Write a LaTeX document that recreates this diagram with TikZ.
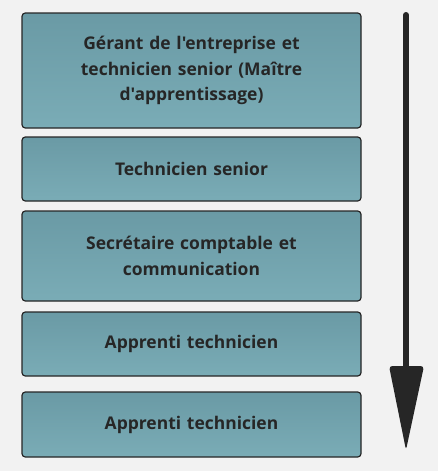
\documentclass[tikz,border=0pt]{standalone}
\usepackage{fontspec}
\setmainfont{Open Sans}[Ligatures=TeXOff]
\usetikzlibrary{arrows.meta}
\definecolor{bg}{HTML}{F2F2F2}
\definecolor{boxtop}{HTML}{6A9AA5}
\definecolor{boxbot}{HTML}{7AACB6}
\definecolor{ink}{HTML}{262626}
\tikzset{
  stepbox/.style={draw=ink, line width=0.9pt, rounded corners=2.5pt,
    top color=boxtop, bottom color=boxbot, minimum width=254.25pt,
    align=center, text width=240pt, inner sep=0pt,
    font=\fontsize{13.1}{19.2}\selectfont\bfseries, text=ink},
}
\begin{document}
\begin{tikzpicture}[x=0.75pt,y=-0.75pt]
\fill[bg] (0,0) rectangle (438,471);
\useasboundingbox (0,0) rectangle (438,471);
\node[stepbox, minimum height=86.25pt] (b1) at (191.5,70.5) {Gérant de l'entreprise et\\technicien senior (Maître\\d'apprentissage)};
\node[stepbox, minimum height=48pt] (b2) at (191.5,169) {Technicien senior};
\node[stepbox, minimum height=67.5pt] (b3) at (191.5,256) {Secrétaire comptable et\\communication};
\node[stepbox, minimum height=48pt] (b4) at (191.5,344) {Apprenti technicien};
\node[stepbox, minimum height=48.75pt] (b5) at (191.5,424.5) {Apprenti technicien};
\coordinate (atop) at (406,15);
\coordinate (abase) at (406,368);
\draw[ink, line width=4.5pt, line cap=round] (atop) -- (abase);
\fill[ink, rounded corners=2.5pt] (389,366) -- (424,366) -- (406,450) -- cycle;
\end{tikzpicture}
\end{document}
